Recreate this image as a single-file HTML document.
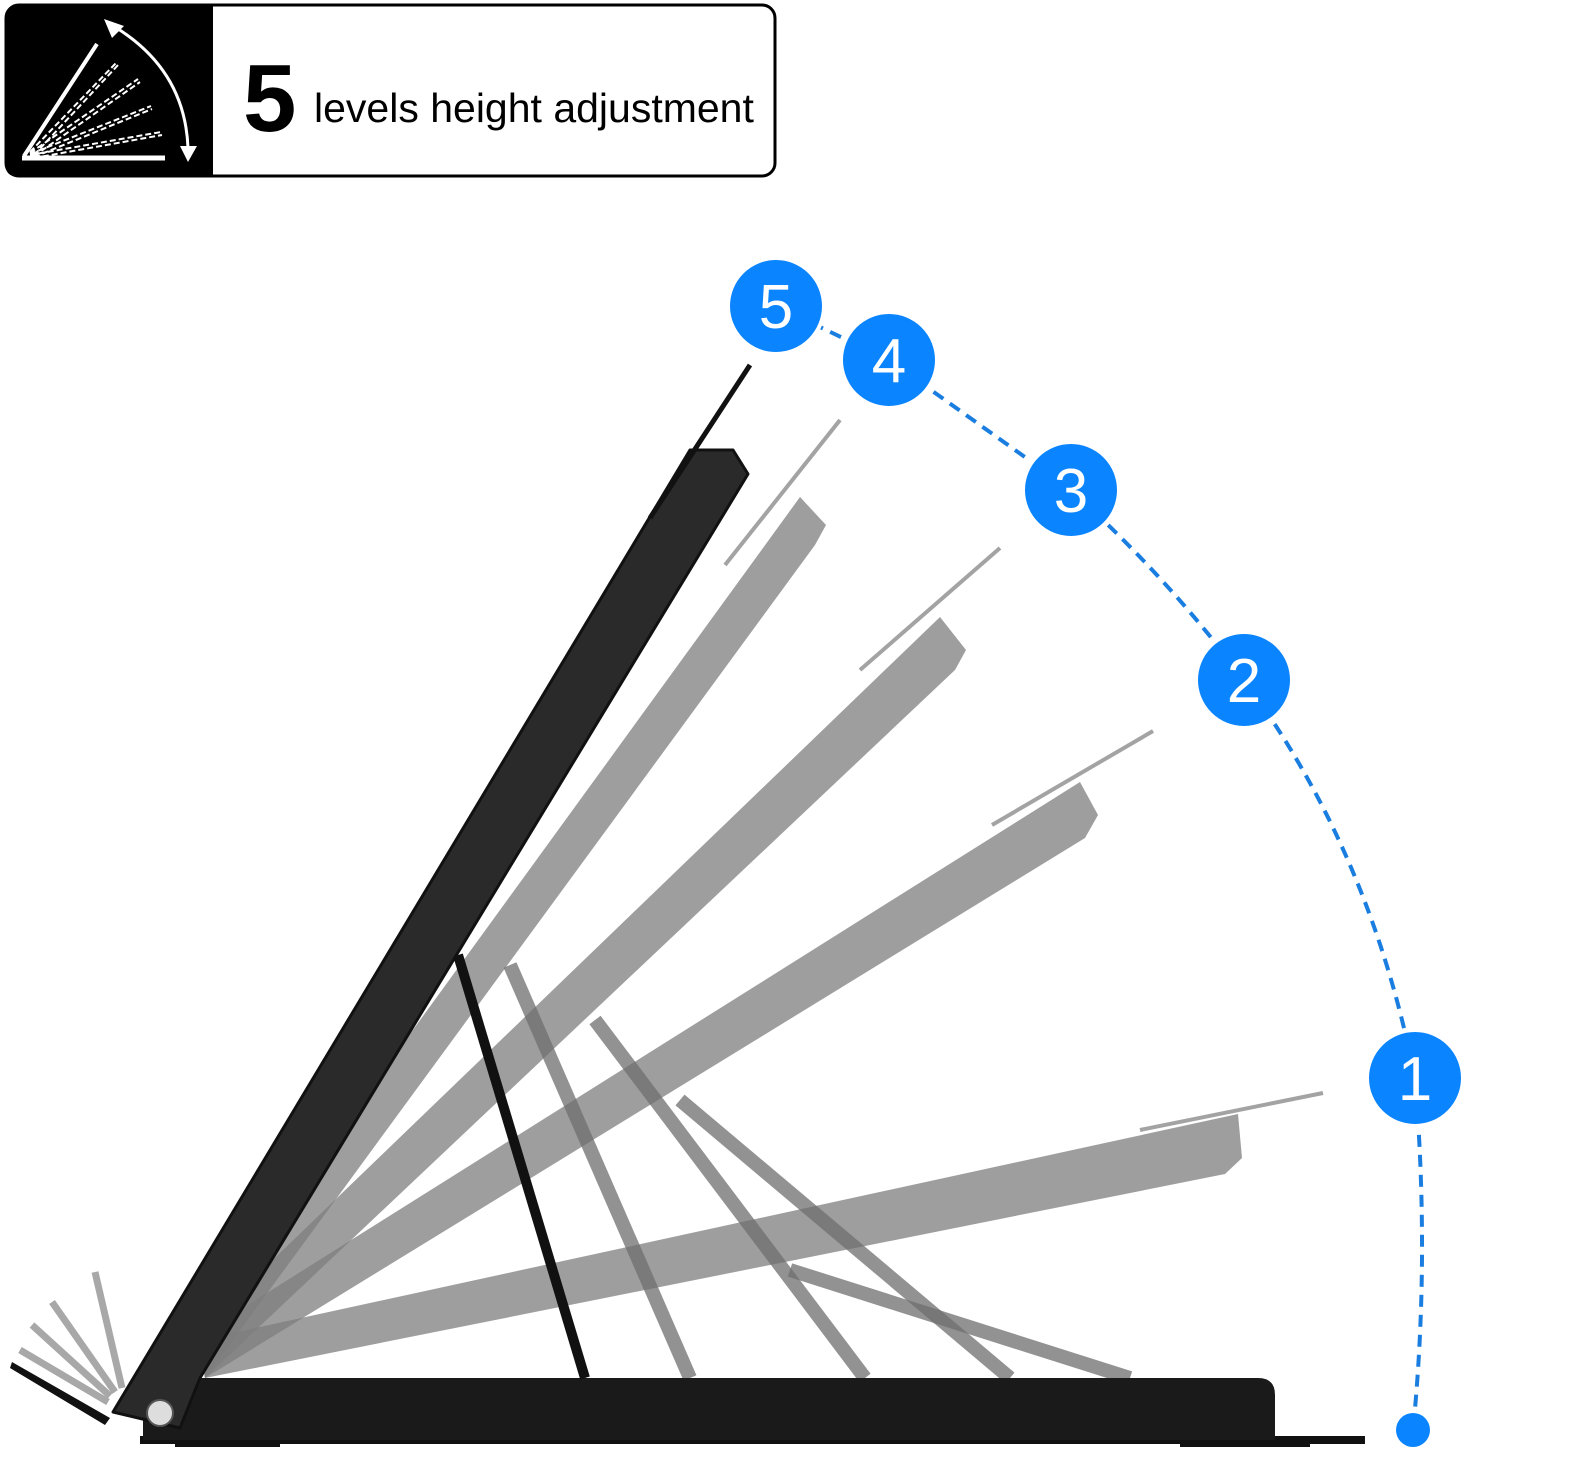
<!DOCTYPE html>
<html><head><style>
html,body{margin:0;padding:0;background:#fff;}
svg{display:block;}
</style></head><body>
<svg width="1592" height="1484" viewBox="0 0 1592 1484" xmlns="http://www.w3.org/2000/svg">
<!-- header -->
<rect x="6" y="5" width="769" height="171" rx="13" fill="#fff" stroke="#000" stroke-width="3"/>
<path d="M19 5 H213 V177 H19 Q5 177 5 163 V19 Q5 5 19 5 Z" fill="#000"/>
<g stroke="#fff" fill="none">
<line x1="22" y1="158" x2="165" y2="158" stroke-width="5"/>
<line x1="24" y1="156" x2="97" y2="44" stroke-width="4"/>
<g stroke-width="2" stroke-dasharray="6 3">
<line x1="30" y1="152" x2="117" y2="62"/><line x1="34" y1="155" x2="119" y2="64"/>
<line x1="30" y1="153" x2="138" y2="79"/><line x1="34" y1="156" x2="140" y2="82"/>
<line x1="30" y1="154" x2="151" y2="106"/><line x1="34" y1="157" x2="152" y2="109"/>
<line x1="30" y1="155" x2="161" y2="132"/><line x1="34" y1="158" x2="162" y2="135"/>
</g>
<path d="M115 27 Q185 70 188 148" stroke-width="3"/>
</g>
<polygon points="104,19 124,26 112,38" fill="#fff"/>
<polygon points="180,146 197,146 188,162" fill="#fff"/>
<text x="243" y="131" font-family="Liberation Sans, sans-serif" font-weight="bold" font-size="96" fill="#000">5</text>
<text x="314" y="122" font-family="Liberation Sans, sans-serif" font-size="41" fill="#000">levels height adjustment</text>

<!-- gray panels -->
<g fill="#7d7d7d" fill-opacity="0.75" stroke="none">
<polygon points="205,1378 1225,1174 1242,1158 1238,1114 200,1340"/>
<polygon points="205,1378 1085,838 1098,815 1080,782 200,1335"/>
<polygon points="205,1378 955,670 966,650 940,617 200,1330"/>
<polygon points="205,1378 815,545 826,525 800,497 195,1330"/>
</g>
<g stroke="#9a9a9a" stroke-width="4" opacity="0.9">
<line x1="1140" y1="1130" x2="1323" y2="1093"/>
<line x1="992" y1="825" x2="1153" y2="731"/>
<line x1="860" y1="670" x2="1000" y2="548"/>
<line x1="725" y1="565" x2="840" y2="420"/>
</g>
<!-- gray legs -->
<g stroke="#6e6e6e" stroke-width="14" stroke-opacity="0.75">
<line x1="510" y1="965" x2="690" y2="1378"/>
<line x1="595" y1="1020" x2="865" y2="1378"/>
<line x1="680" y1="1100" x2="1010" y2="1378"/>
<line x1="790" y1="1270" x2="1130" y2="1378"/>
</g>
<!-- allen keys -->
<g stroke="#9a9a9a" stroke-width="7" opacity="0.85">
<line x1="95" y1="1272" x2="122" y2="1388"/>
<line x1="52" y1="1302" x2="115" y2="1392"/>
<line x1="32" y1="1325" x2="110" y2="1396"/>
<line x1="20" y1="1350" x2="108" y2="1402"/>
</g>
<polygon points="12,1362 110,1418 105,1425 10,1368" fill="#111"/>
<!-- base -->
<rect x="140" y="1436" width="1225" height="8" fill="#111"/>
<rect x="175" y="1442" width="105" height="5" fill="#111"/>
<rect x="1180" y="1442" width="130" height="5" fill="#111"/>
<path d="M143 1378 H1258 Q1275 1378 1275 1395 V1440 H143 Z" fill="#1a1a1a"/>
<!-- black leg -->
<line x1="458" y1="955" x2="585" y2="1378" stroke="#111" stroke-width="10"/>
<!-- black panel -->
<polygon points="113,1412 690,450 733,450 748,474 200,1378 180,1428" fill="#2a2a2a" stroke="#111" stroke-width="3" stroke-linejoin="round"/>
<line x1="650" y1="518" x2="750" y2="365" stroke="#111" stroke-width="5"/>
<circle cx="160" cy="1413" r="13" fill="#ddd" stroke="#555" stroke-width="2"/>
<!-- dashed arc -->
<path d="M776 306 L889 360 L1071 490 Q1170 580 1244 680 Q1370 850 1415 1078 Q1430 1260 1413 1430" fill="none" stroke="#1a7de0" stroke-width="4" stroke-dasharray="12 8"/>
<g fill="#0a84ff" stroke="#fff" stroke-width="4">
<circle cx="776" cy="306" r="48"/>
<circle cx="889" cy="360" r="48"/>
<circle cx="1071" cy="490" r="48"/>
<circle cx="1244" cy="680" r="48"/>
<circle cx="1415" cy="1078" r="48"/>
</g>
<circle cx="1413" cy="1430" r="17" fill="#0a84ff"/>
<g font-family="Liberation Sans, sans-serif" font-size="62" fill="#fff" text-anchor="middle">
<text x="776" y="328">5</text>
<text x="889" y="382">4</text>
<text x="1071" y="512">3</text>
<text x="1244" y="702">2</text>
<text x="1415" y="1100">1</text>
</g>
</svg>
</body></html>
